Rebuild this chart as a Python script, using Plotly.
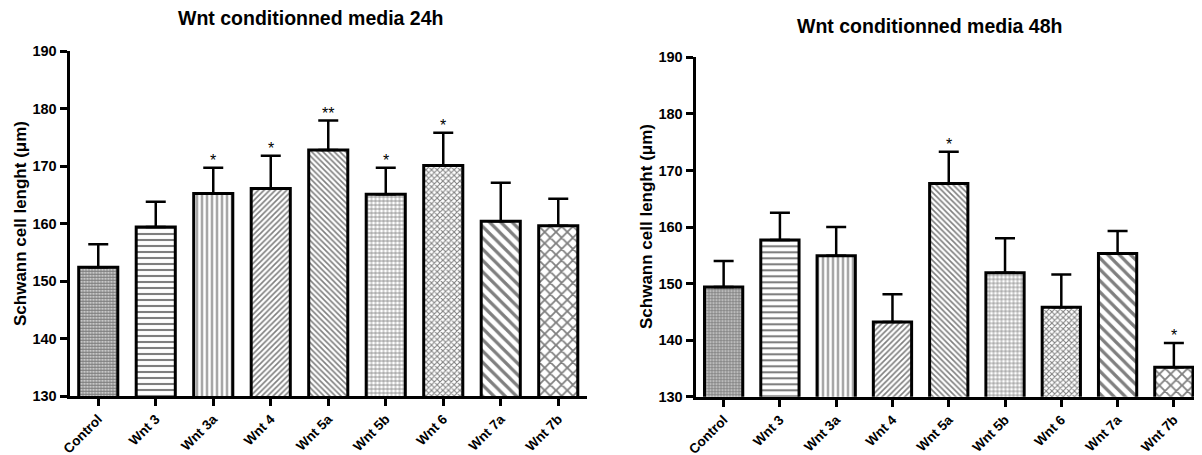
import plotly.graph_objects as go

categories = ["Control", "Wnt 3", "Wnt 3a", "Wnt 4", "Wnt 5a", "Wnt 5b", "Wnt 6", "Wnt 7a", "Wnt 7b"]

mean_24h = [152.4, 159.4, 165.2, 166.1, 172.8, 165.1, 170.1, 160.4, 159.6]
err_24h = [4.0, 4.4, 4.5, 5.7, 5.1, 4.6, 5.7, 6.7, 4.7]
sig_24h = ["", "", "*", "*", "**", "*", "*", "", ""]

mean_48h = [149.4, 157.7, 154.9, 143.2, 167.7, 151.9, 145.8, 155.3, 135.2]
err_48h = [4.6, 4.8, 5.1, 4.9, 5.6, 6.1, 5.8, 4.0, 4.3]
sig_48h = ["", "", "", "", "*", "", "", "", "*"]

patterns = [
    dict(shape=".", size=3, solidity=0.75),
    dict(shape="-", size=6, solidity=0.35),
    dict(shape="|", size=5, solidity=0.35),
    dict(shape="/", size=4, solidity=0.4),
    dict(shape="\\", size=4, solidity=0.4),
    dict(shape="+", size=4, solidity=0.35),
    dict(shape="x", size=4, solidity=0.45),
    dict(shape="\\", size=8, solidity=0.4),
    dict(shape="x", size=8, solidity=0.4),
]

FONT = "Liberation Sans, Arial, sans-serif"
W, H, OFF = 1202, 455, 8


def px(x):
    return (x - OFF) / W


def py(y):
    return 1 - (y - OFF) / H


fig = go.Figure()


def add_panel(means, errs, xa, ya):
    for i, cat in enumerate(categories):
        p = patterns[i]
        fig.add_trace(go.Bar(
            x=[cat], y=[means[i]], width=0.68,
            xaxis=xa, yaxis=ya,
            marker=dict(color="white", line=dict(color="black", width=3),
                        pattern=dict(shape=p["shape"], size=p["size"], solidity=p["solidity"],
                                     fgcolor="black", bgcolor="white", fillmode="overlay")),
            error_y=dict(type="data", symmetric=False, array=[errs[i]], arrayminus=[0],
                         color="black", thickness=2.5, width=10),
            showlegend=False,
        ))


add_panel(mean_24h, err_24h, "x", "y")
add_panel(mean_48h, err_48h, "x2", "y2")

annotations = []
for means, errs, sig, xref, yref in [(mean_24h, err_24h, sig_24h, "x", "y"),
                                     (mean_48h, err_48h, sig_48h, "x2", "y2")]:
    for i, s in enumerate(sig):
        if s:
            annotations.append(dict(x=categories[i], y=means[i] + errs[i], xref=xref, yref=yref,
                                    text=s, showarrow=False, yanchor="bottom", yshift=-3,
                                    font=dict(family=FONT, size=16, color="black")))

annotations += [
    dict(text="<b>Wnt conditionned media 24h</b>", x=px(310), y=py(18), xref="paper", yref="paper",
         showarrow=False, xanchor="center", yanchor="middle", font=dict(family=FONT, size=19.5, color="black")),
    dict(text="<b>Wnt conditionned media 48h</b>", x=px(929), y=py(26), xref="paper", yref="paper",
         showarrow=False, xanchor="center", yanchor="middle", font=dict(family=FONT, size=19.5, color="black")),
    dict(text="<b>Schwann cell lenght (μm)</b>", x=px(20), y=py(224), xref="paper", yref="paper",
         showarrow=False, textangle=-90, xanchor="center", yanchor="middle",
         font=dict(family=FONT, size=17, color="black")),
    dict(text="<b>Schwann cell lenght (μm)</b>", x=px(646), y=py(227), xref="paper", yref="paper",
         showarrow=False, textangle=-90, xanchor="center", yanchor="middle",
         font=dict(family=FONT, size=17, color="black")),
]

xcommon = dict(type="category", range=[-0.5, 8.5], showline=True, linecolor="black", linewidth=3,
               ticks="outside", ticklen=7, tickwidth=2.5, tickcolor="black", tickangle=-45,
               tickfont=dict(family=FONT, size=13.5, color="black", weight="bold"), showgrid=False,
               automargin=False)
ycommon = dict(range=[130, 190], dtick=10, showline=True, linecolor="black", linewidth=3,
               ticks="outside", ticklen=7, tickwidth=2.5, tickcolor="black",
               tickfont=dict(family=FONT, size=14.5, color="black", weight="bold"),
               showgrid=False, zeroline=False, automargin=False)

fig.update_layout(
    width=W, height=H,
    margin=dict(l=0, r=0, t=0, b=0, autoexpand=False),
    paper_bgcolor="white", plot_bgcolor="white",
    barmode="overlay",
    xaxis=dict(domain=[px(69.5), px(587)], anchor="y", **xcommon),
    yaxis=dict(domain=[py(396), py(51)], anchor="x", **ycommon),
    xaxis2=dict(domain=[px(695.5), px(1202)], anchor="y2", **xcommon),
    yaxis2=dict(domain=[py(396.7), py(57.3)], anchor="x2", **ycommon),
    annotations=annotations,
)

fig.write_html("out.html")
